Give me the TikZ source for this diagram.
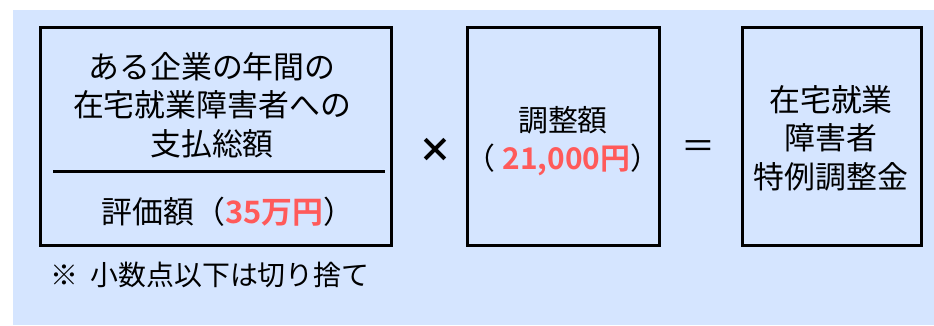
\documentclass[tikz,border=0pt]{standalone}
\usepackage{fontspec}
\usepackage{xcolor}
\usepackage{tikz}
\setmainfont{Noto Sans CJK JP}
\newfontfamily\numfont{Noto Sans CJK JP Bold}
\definecolor{panelblue}{HTML}{D5E5FF}
\definecolor{amountred}{HTML}{FF5A5A}
\newcommand{\amount}[1]{{\numfont\color{amountred}#1}}

\begin{document}
\begin{tikzpicture}[x=1bp,y=1bp,
  frame/.style={draw=black, line width=3bp},
  jtext/.style={align=center, inner sep=0pt, font=\fontsize{31}{38.5}\selectfont},
  optext/.style={inner sep=0pt, font=\fontsize{34}{34}\selectfont}]
\useasboundingbox (0,0) rectangle (934,325);
\fill[panelblue] (13,0) rectangle (934,315);
% boxes
\draw[frame] (40,80) rectangle (391,297);
\draw[frame] (467,80) rectangle (659,297);
\draw[frame] (742,80) rectangle (921,297);
\coordinate (barL) at (53,154);
\coordinate (barR) at (385,154);
\draw[line width=3bp] (barL) -- (barR);
% texts
\node[jtext] (total) at (212,220) {ある企業の年間の\\在宅就業障害者への\\支払総額};
\node[jtext] (value) at (228,113) {評価額（\amount{35万円}）};
\node[jtext, font=\fontsize{30}{38.5}\selectfont] (adjust) at (563,184) {調整額\\（ \amount{21,000円}）};
\node[jtext] (result) at (831,187) {在宅就業\\障害者\\特例調整金};
\node[optext] (times) at (435,175) {\textbf{×}};
\node[optext] (equals) at (698,175) {＝};
\node[jtext, anchor=west, font=\fontsize{28}{28}\selectfont] (note) at (50,50) {※\ \ 小数点以下は切り捨て};
\end{tikzpicture}
\end{document}
